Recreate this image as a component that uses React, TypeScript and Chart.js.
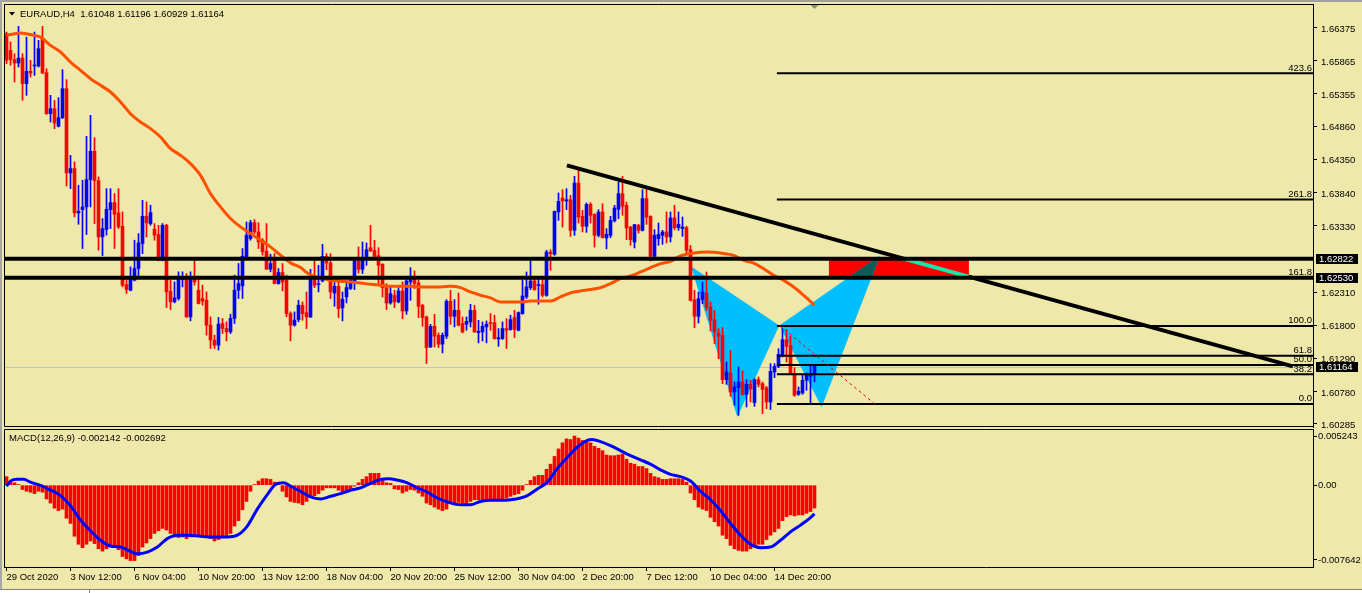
import React, { useEffect, useRef } from 'react';
import { Chart, registerables } from 'chart.js';

Chart.register(...registerables);

// ---------------- data ----------------
const SYMBOL = 'EURAUD,H4';

const OPEN = [
  1.66280, 1.66024, 1.65881, 1.65830, 1.65906, 1.65512, 1.65702, 1.65784, 1.65784, 1.66203,
  1.65681, 1.65051, 1.65128, 1.64857, 1.64990, 1.65435, 1.64140, 1.64207, 1.63526, 1.63577,
  1.63618, 1.64038, 1.64473, 1.64022, 1.63157, 1.63270, 1.63577, 1.63685, 1.63526, 1.63321,
  1.62425, 1.62338, 1.62492, 1.62671, 1.63055, 1.63475, 1.63362, 1.63275, 1.63193, 1.62799,
  1.63336, 1.62322, 1.62159, 1.62210, 1.62502, 1.62543, 1.61928, 1.62543, 1.62338, 1.62210,
  1.62184, 1.61800, 1.61570, 1.61493, 1.61826, 1.61749, 1.61698, 1.61903, 1.62338, 1.62404,
  1.62850, 1.63132, 1.63377, 1.63234, 1.63106, 1.62937, 1.62661, 1.62840, 1.62440, 1.62610,
  1.62492, 1.61979, 1.61800, 1.61887, 1.62106, 1.61993, 1.61927, 1.62552, 1.62424, 1.62480,
  1.62859, 1.62756, 1.62295, 1.62398, 1.62065, 1.62234, 1.62362, 1.62480, 1.62787, 1.62659,
  1.62838, 1.62992, 1.62951, 1.62869, 1.62736, 1.62378, 1.62142, 1.62260, 1.62158, 1.62326,
  1.62019, 1.62465, 1.62500, 1.62449, 1.62106, 1.61927, 1.61466, 1.61783, 1.61645, 1.61507,
  1.61630, 1.62168, 1.61937, 1.62029, 1.61825, 1.61814, 1.61850, 1.62029, 1.61686, 1.61697,
  1.61773, 1.61840, 1.61840, 1.61589, 1.61594, 1.61748, 1.61733, 1.61917, 1.61722, 1.61978,
  1.62234, 1.62378, 1.62480, 1.62408, 1.62424, 1.62260, 1.62925, 1.62890, 1.63540, 1.63755,
  1.63709, 1.63729, 1.63258, 1.63985, 1.63473, 1.63320, 1.63658, 1.63504, 1.63181, 1.63540,
  1.63141, 1.63181, 1.63402, 1.63581, 1.63821, 1.63642, 1.63309, 1.63079, 1.63335, 1.63258,
  1.63745, 1.63473, 1.62859, 1.63130, 1.63181, 1.63233, 1.63156, 1.63448, 1.63299, 1.63284,
  1.63299, 1.62960, 1.62192, 1.61936, 1.62197, 1.62294, 1.62079, 1.61884, 1.61680, 1.61644,
  1.60963, 1.61065, 1.60773, 1.60840, 1.60927, 1.60738, 1.60891, 1.60610, 1.60963, 1.60901,
  1.60835, 1.60620, 1.61081, 1.61168, 1.61337, 1.61577, 1.61490, 1.61055, 1.60738, 1.60758,
  1.60952, 1.61014, 1.61048,
];

const HIGH = [
  1.66306, 1.66152, 1.65973, 1.66393, 1.65973, 1.66229, 1.65871, 1.66306, 1.66178, 1.66393,
  1.65743, 1.65333, 1.65256, 1.65297, 1.65727, 1.65574, 1.64411, 1.64309, 1.63951, 1.64028,
  1.64703, 1.65026, 1.64683, 1.64079, 1.63439, 1.63899, 1.63899, 1.63823, 1.63899, 1.63541,
  1.62517, 1.62697, 1.63106, 1.63208, 1.63720, 1.63695, 1.63644, 1.63362, 1.63336, 1.63362,
  1.63351, 1.62492, 1.62466, 1.62620, 1.62620, 1.62594, 1.62620, 1.62809, 1.62543, 1.62415,
  1.62312, 1.61928, 1.61647, 1.61918, 1.61903, 1.61852, 1.61969, 1.62569, 1.62748, 1.62978,
  1.63387, 1.63413, 1.63423, 1.63377, 1.63132, 1.63362, 1.62891, 1.62901, 1.62671, 1.62748,
  1.62569, 1.62005, 1.62005, 1.62184, 1.62158, 1.62311, 1.62659, 1.62797, 1.62721, 1.63043,
  1.62900, 1.62900, 1.62465, 1.62552, 1.62311, 1.62449, 1.62552, 1.62838, 1.63002, 1.63079,
  1.63064, 1.63335, 1.63105, 1.62992, 1.62746, 1.62439, 1.62398, 1.62337, 1.62398, 1.62465,
  1.62541, 1.62685, 1.62634, 1.62490, 1.62122, 1.61941, 1.61814, 1.61968, 1.61681, 1.61681,
  1.62193, 1.62337, 1.62193, 1.62295, 1.61927, 1.61927, 1.62122, 1.62106, 1.61875, 1.61850,
  1.61865, 1.61978, 1.61953, 1.61748, 1.61850, 1.61901, 1.61953, 1.62029, 1.62004, 1.62490,
  1.62618, 1.62787, 1.62552, 1.62516, 1.62552, 1.62951, 1.62961, 1.63555, 1.63832, 1.63883,
  1.63898, 1.63796, 1.64088, 1.64180, 1.63565, 1.63678, 1.63683, 1.63514, 1.63576, 1.63668,
  1.63284, 1.63473, 1.63642, 1.64001, 1.64088, 1.63693, 1.63320, 1.63350, 1.63350, 1.63883,
  1.63934, 1.63483, 1.63268, 1.63371, 1.63258, 1.63540, 1.63540, 1.63642, 1.63540, 1.63463,
  1.63320, 1.63026, 1.62335, 1.62309, 1.62463, 1.62617, 1.62156, 1.62028, 1.61746, 1.61762,
  1.61234, 1.61413, 1.60927, 1.61157, 1.61096, 1.60963, 1.60952, 1.60978, 1.61004, 1.60927,
  1.60860, 1.61209, 1.61209, 1.61439, 1.61746, 1.61731, 1.61628, 1.61147, 1.60850, 1.61029,
  1.61065, 1.61198, 1.61196,
];

const LOW = [
  1.65819, 1.65794, 1.65538, 1.65768, 1.65256, 1.65333, 1.65615, 1.65640, 1.65768, 1.65666,
  1.65040, 1.64923, 1.64821, 1.64847, 1.64975, 1.63940, 1.63899, 1.63464, 1.63351, 1.62978,
  1.63193, 1.63618, 1.63362, 1.62953, 1.62870, 1.63183, 1.63285, 1.62978, 1.63285, 1.62389,
  1.62287, 1.62327, 1.62480, 1.62517, 1.62901, 1.63157, 1.63336, 1.63106, 1.62790, 1.62789,
  1.62071, 1.62041, 1.62143, 1.62184, 1.62389, 1.61918, 1.61867, 1.62415, 1.62125, 1.62107,
  1.61647, 1.61442, 1.61442, 1.61417, 1.61672, 1.61560, 1.61672, 1.61826, 1.62210, 1.62210,
  1.62840, 1.63106, 1.63208, 1.62978, 1.62876, 1.62656, 1.62620, 1.62435, 1.62430, 1.62327,
  1.61928, 1.61560, 1.61785, 1.61852, 1.61875, 1.61748, 1.61917, 1.62378, 1.62311, 1.62465,
  1.62654, 1.62209, 1.62091, 1.61917, 1.61865, 1.62142, 1.62347, 1.62347, 1.62603, 1.62593,
  1.62721, 1.62936, 1.62838, 1.62439, 1.62234, 1.62040, 1.62122, 1.62070, 1.62142, 1.61901,
  1.61968, 1.62183, 1.62362, 1.61917, 1.61783, 1.61211, 1.61456, 1.61466, 1.61456, 1.61374,
  1.61594, 1.61814, 1.61773, 1.61790, 1.61681, 1.61722, 1.61773, 1.61690, 1.61528, 1.61558,
  1.61528, 1.61722, 1.61585, 1.61476, 1.61579, 1.61441, 1.61722, 1.61610, 1.61712, 1.61968,
  1.62209, 1.62347, 1.62337, 1.62122, 1.62234, 1.62245, 1.62644, 1.62874, 1.63412, 1.63309,
  1.63576, 1.63166, 1.63181, 1.63371, 1.63233, 1.63227, 1.63371, 1.63002, 1.63156, 1.63140,
  1.62972, 1.63146, 1.63386, 1.63437, 1.63489, 1.63115, 1.63028, 1.62987, 1.63217, 1.63248,
  1.63350, 1.62787, 1.62849, 1.63028, 1.63043, 1.63064, 1.63079, 1.63268, 1.63258, 1.63166,
  1.62900, 1.62171, 1.61762, 1.61833, 1.62130, 1.62028, 1.61710, 1.61516, 1.61285, 1.60901,
  1.60891, 1.60707, 1.60569, 1.60415, 1.60722, 1.60543, 1.60620, 1.60553, 1.60850, 1.60441,
  1.60517, 1.60502, 1.60994, 1.61147, 1.61311, 1.61234, 1.61045, 1.60707, 1.60722, 1.60738,
  1.60799, 1.60594, 1.60929,
];

const CLOSE = [
  1.65871, 1.65881, 1.65830, 1.65906, 1.65512, 1.65702, 1.65676, 1.65794, 1.66050, 1.65676,
  1.65051, 1.65128, 1.64908, 1.64990, 1.65435, 1.64140, 1.64207, 1.63526, 1.63551, 1.63618,
  1.64038, 1.64473, 1.64022, 1.63157, 1.63285, 1.63582, 1.63685, 1.63505, 1.63311, 1.62415,
  1.62348, 1.62543, 1.62671, 1.63065, 1.63475, 1.63372, 1.63531, 1.63183, 1.62799, 1.63336,
  1.62312, 1.62159, 1.62220, 1.62543, 1.62543, 1.61928, 1.62543, 1.62466, 1.62133, 1.62169,
  1.61800, 1.61570, 1.61493, 1.61816, 1.61749, 1.61698, 1.61903, 1.62338, 1.62440, 1.62860,
  1.63183, 1.63377, 1.63234, 1.63081, 1.62927, 1.62661, 1.62748, 1.62440, 1.62610, 1.62466,
  1.61979, 1.61800, 1.61877, 1.62107, 1.61978, 1.61927, 1.62552, 1.62413, 1.62439, 1.62859,
  1.62756, 1.62311, 1.62398, 1.62055, 1.62198, 1.62378, 1.62490, 1.62787, 1.62659, 1.62838,
  1.62961, 1.62941, 1.62859, 1.62721, 1.62378, 1.62142, 1.62285, 1.62158, 1.62326, 1.62019,
  1.62480, 1.62500, 1.62439, 1.62091, 1.61917, 1.61456, 1.61783, 1.61630, 1.61507, 1.61645,
  1.62168, 1.61937, 1.62029, 1.61799, 1.61697, 1.61860, 1.62029, 1.61697, 1.61707, 1.61783,
  1.61814, 1.61825, 1.61594, 1.61610, 1.61748, 1.61722, 1.61886, 1.61733, 1.61993, 1.62250,
  1.62388, 1.62480, 1.62347, 1.62424, 1.62260, 1.62925, 1.62900, 1.63550, 1.63704, 1.63709,
  1.63729, 1.63258, 1.63985, 1.63463, 1.63320, 1.63658, 1.63489, 1.63181, 1.63540, 1.63146,
  1.63197, 1.63412, 1.63601, 1.63821, 1.63627, 1.63294, 1.63115, 1.63345, 1.63258, 1.63745,
  1.63463, 1.62859, 1.63181, 1.63197, 1.63233, 1.63156, 1.63448, 1.63299, 1.63350, 1.63309,
  1.62951, 1.62181, 1.61936, 1.62207, 1.62309, 1.62069, 1.61874, 1.61695, 1.61628, 1.60963,
  1.61081, 1.60773, 1.60850, 1.60927, 1.60738, 1.60891, 1.60819, 1.60963, 1.60891, 1.60814,
  1.60620, 1.61091, 1.61168, 1.61352, 1.61577, 1.61475, 1.61055, 1.60722, 1.60784, 1.60952,
  1.61029, 1.61055, 1.61164,
];

// Moving average (read at sampled bars)
const MA_BARS = [
  0, 2, 3.5, 5, 7, 8.5, 11, 13.5, 16, 18.5, 21, 23.5, 26, 28.5, 31, 33.5, 36, 38.5, 41, 43.5,
  46, 48.5, 51, 53.5, 56, 58.5, 61, 63.5, 66, 68.5, 71, 73.5, 75.2, 76.8, 78.5, 81, 83.5, 86,
  88.5, 91, 93.5, 96, 101, 103.5, 108.5, 111, 113.5, 116, 118.5, 121, 123.5, 128.5, 131, 136,
  138.5, 141, 143.5, 146, 148.5, 151, 153.5, 156, 158.5, 161, 163.5, 166, 168.5, 171.8, 175.2,
  178.5, 181.8, 184.3, 186.8, 189.3, 191.8, 194.3, 196.8, 199.3, 202,
];
const MA_VALUES = [
  1.66255, 1.66280, 1.66290, 1.66280, 1.66255, 1.66229, 1.66101, 1.65999, 1.65845, 1.65717,
  1.65589, 1.65487, 1.65384, 1.65231, 1.65051, 1.64923, 1.64821, 1.64693, 1.64514, 1.64411,
  1.64283, 1.64104, 1.63823, 1.63618, 1.63439, 1.63311, 1.63208, 1.63106, 1.63004, 1.62876,
  1.62758, 1.62686, 1.62603, 1.62552, 1.62531, 1.62490, 1.62475, 1.62465, 1.62449, 1.62429,
  1.62413, 1.62398, 1.62398, 1.62388, 1.62388, 1.62398, 1.62378, 1.62311, 1.62260, 1.62219,
  1.62157, 1.62157, 1.62173, 1.62173, 1.62234, 1.62296, 1.62326, 1.62347, 1.62378, 1.62439,
  1.62516, 1.62557, 1.62618, 1.62685, 1.62746, 1.62782, 1.62865, 1.62908, 1.62924, 1.62908,
  1.62873, 1.62796, 1.62755, 1.62668, 1.62565, 1.62489, 1.62386, 1.62258, 1.62110,
];

// MACD main (histogram), one per bar
const MACD_MAIN = [
  0.00079, 0.00028, 0.00022, 0.00006, -0.00041, -0.00057, -0.00066, -0.00079, -0.00057, -0.00066,
  -0.00129, -0.00167, -0.00215, -0.00237, -0.00224, -0.00309, -0.00357, -0.00477, -0.00552, -0.00584,
  -0.00552, -0.00521, -0.00546, -0.00594, -0.00616, -0.00594, -0.00578, -0.00578, -0.00603, -0.00666,
  -0.00688, -0.00704, -0.00704, -0.00657, -0.00578, -0.00540, -0.00499, -0.00451, -0.00426, -0.00404,
  -0.00420, -0.00451, -0.00483, -0.00489, -0.00483, -0.00499, -0.00483, -0.00477, -0.00477, -0.00483,
  -0.00489, -0.00499, -0.00521, -0.00508, -0.00489, -0.00477, -0.00451, -0.00382, -0.00331, -0.00230,
  -0.00152, -0.00057, 0.00006, 0.00038, 0.00060, 0.00060, 0.00054, 0.00028, 0.00016, -0.00057,
  -0.00110, -0.00152, -0.00161, -0.00167, -0.00183, -0.00152, -0.00110, -0.00098, -0.00079, -0.00047,
  -0.00025, -0.00025, -0.00025, -0.00047, -0.00066, -0.00047, -0.00035, -0.00009, 0.00022, 0.00054,
  0.00079, 0.00110, 0.00110, 0.00110, 0.00054, 0.00022, 0.00016, -0.00035, -0.00041, -0.00073,
  -0.00057, -0.00041, -0.00047, -0.00073, -0.00104, -0.00167, -0.00183, -0.00205, -0.00224, -0.00237,
  -0.00224, -0.00161, -0.00167, -0.00161, -0.00167, -0.00174, -0.00152, -0.00136, -0.00136, -0.00136,
  -0.00136, -0.00129, -0.00129, -0.00129, -0.00129, -0.00120, -0.00104, -0.00088, -0.00079, -0.00047,
  0.00006, 0.00044, 0.00079, 0.00092, 0.00092, 0.00148, 0.00196, 0.00268, 0.00338, 0.00395,
  0.00432, 0.00426, 0.00458, 0.00439, 0.00417, 0.00417, 0.00395, 0.00363, 0.00344, 0.00322,
  0.00281, 0.00275, 0.00275, 0.00281, 0.00290, 0.00243, 0.00205, 0.00196, 0.00174, 0.00174,
  0.00155, 0.00110, 0.00079, 0.00069, 0.00054, 0.00054, 0.00060, 0.00060, 0.00060, 0.00054,
  0.00028, -0.00073, -0.00136, -0.00205, -0.00224, -0.00237, -0.00300, -0.00341, -0.00382, -0.00467,
  -0.00499, -0.00562, -0.00594, -0.00609, -0.00616, -0.00616, -0.00594, -0.00578, -0.00552, -0.00552,
  -0.00508, -0.00467, -0.00436, -0.00404, -0.00331, -0.00294, -0.00278, -0.00287, -0.00278, -0.00278,
  -0.00262, -0.00246, -0.002142,
];

// MACD signal line (read at sampled bars)
const SIGNAL_BARS = [
  0, 1, 2.7, 4.3, 6, 8.5, 11, 13.5, 16, 18.5, 21, 23.5, 26, 28.5, 31, 32.7, 35.2, 37.7, 40.2, 42.7,
  45.2, 48.5, 51.8, 55.2, 57.7, 60.2, 62.7, 65.2, 67.25, 69.3, 71, 73.5, 76, 78.5, 81, 83.5, 86,
  88.5, 91, 93.5, 95.6, 97.7, 100.2, 102.7, 105.2, 107.7, 110.5, 113.5, 116, 118.5, 121, 123.5,
  126, 128.5, 130.2, 132.7, 135.2, 137.7, 140.2, 142.7, 145.2, 146.4, 148.5, 151, 153.5, 156,
  158.5, 161, 163.5, 166, 168.5, 171, 173.5, 176, 178.5, 181, 183.5, 186, 188.5, 191, 193.5, 196,
  198.5, 201, 202,
];
const SIGNAL_VALUES = [
  -0.00009, 0.00038, 0.00054, 0.00054, 0.00028, -0.00003, -0.00047, -0.00098, -0.00193, -0.00325,
  -0.00426, -0.00515, -0.00568, -0.00578, -0.00619, -0.00641, -0.00625, -0.00578, -0.00499, -0.00467,
  -0.00467, -0.00477, -0.00483, -0.00483, -0.00467, -0.00382, -0.00224, -0.00088, 0.00006, 0.00022,
  -0.00009, -0.00057, -0.00110, -0.00129, -0.00104, -0.00079, -0.00047, -0.00025, 0.00016, 0.00054,
  0.00060, 0.00047, 0.00022, -0.00025, -0.00066, -0.00120, -0.00160, -0.00183, -0.00183, -0.00152,
  -0.00142, -0.00142, -0.00136, -0.00120, -0.00098, -0.00035, 0.00028, 0.00155, 0.00259, 0.00354,
  0.00417, 0.00426, 0.00407, 0.00369, 0.00322, 0.00275, 0.00237, 0.00196, 0.00142, 0.00101,
  0.00079, 0.00038, -0.00057, -0.00136, -0.00237, -0.00357, -0.00467, -0.00552, -0.00584, -0.00578,
  -0.00515, -0.00436, -0.00373, -0.00303, -0.002692,
];

// axes
const PRICE_TICKS = [1.60285, 1.60780, 1.61290, 1.61800, 1.62310, 1.63330, 1.63840, 1.64350, 1.64860, 1.65355, 1.65865, 1.66375];
const PRICE_MIN = 1.60235;
const PRICE_MAX = 1.66737;
const BAR_MIN = -0.625;
const BAR_MAX = 326.625;
const MACD_MIN = -0.007642;
const MACD_MAX = 0.005243;
const MACD_TICKS = [-0.006988, 0, 0.004543];
const MACD_TICK_LABELS = ['-0.007642', '0.00', '0.005243'];
const X_TICK_BARS = [0, 16, 32, 48, 64, 80, 96, 112, 128, 144, 160, 176, 192];
const X_TICK_LABELS = [
  '29 Oct 2020', '3 Nov 12:00', '6 Nov 04:00', '10 Nov 20:00', '13 Nov 12:00', '18 Nov 04:00',
  '20 Nov 20:00', '25 Nov 12:00', '30 Nov 04:00', '2 Dec 20:00', '7 Dec 12:00', '10 Dec 04:00', '14 Dec 20:00',
];

// chart objects
const LEVEL_LINES = [1.62822, 1.62530];
const BID = 1.61164;
const ZONE_BARS = [205.6, 240.6];
const ZONE_PRICES = [1.62822, 1.62530];
const TREND_BARS = [140.1, 321.6];
const TREND_PRICES = [1.64256, 1.61167];
const PATTERN_BARS = [171.1, 182.7, 193.2, 203.8, 218.4];
const PATTERN_PRICES = [1.62704, 1.60387, 1.61797, 1.60541, 1.62873];
const FIB_START_BAR = 192.6;
const FIB_LOW = 1.60589;
const FIB_HIGH = 1.61789;
const FIB_LEVELS = [0, 38.2, 50, 61.8, 100, 161.8, 261.8, 423.6];
const FIB_LABELS = ['0.0', '38.2', '50.0', '61.8', '100.0', '161.8', '261.8', '423.6'];
const FIB_DASH_BARS = [193.4, 217.1];
const MACD_NAME = 'MACD(12,26,9)';

// ---------------- styling ----------------
const W = 1362;
const BG = '#EEE8AA';
const FONT_FAMILY = 'Liberation Sans';
const FONT_SIZE = 9.5;
const CSS_FONT = `${FONT_SIZE}px "${FONT_FAMILY}"`;
const UP = '#0000FF';
const DOWN = '#FF0000';

const BARS = OPEN.map((_, i) => i);
const CANDLE_COLORS = BARS.map((i) => (CLOSE[i] >= OPEN[i] ? UP : DOWN));

const mainOverlay: any = {
  id: 'mainOverlay',
  beforeDatasetsDraw(chart: any) {
    const { ctx, chartArea: a } = chart;
    const X = (v: number) => chart.scales.x.getPixelForValue(v);
    const Y = (v: number) => chart.scales.y.getPixelForValue(v);
    ctx.save();
    ctx.beginPath();
    ctx.rect(a.left, a.top, a.right - a.left, a.bottom - a.top);
    ctx.clip();
    // bid line
    const yb = Math.round(Y(BID)) + 0.5;
    ctx.strokeStyle = '#C0C0C0';
    ctx.lineWidth = 1;
    ctx.beginPath();
    ctx.moveTo(a.left, yb);
    ctx.lineTo(a.right, yb);
    ctx.stroke();
    // zone rectangle
    const zx0 = X(ZONE_BARS[0]);
    const zx1 = X(ZONE_BARS[1]);
    const zy0 = Y(ZONE_PRICES[0]);
    const zy1 = Y(ZONE_PRICES[1]);
    ctx.fillStyle = '#FF0000';
    ctx.fillRect(zx0, zy0, zx1 - zx0, zy1 - zy0);
    // harmonic triangles
    const pts = PATTERN_BARS.map((b, i) => [X(b), Y(PATTERN_PRICES[i])]);
    const tri = (p: number[], q: number[], r: number[]) => {
      ctx.beginPath();
      ctx.moveTo(p[0], p[1]);
      ctx.lineTo(q[0], q[1]);
      ctx.lineTo(r[0], r[1]);
      ctx.closePath();
    };
    ctx.fillStyle = '#00BFFF';
    tri(pts[0], pts[1], pts[2]);
    ctx.fill();
    tri(pts[2], pts[3], pts[4]);
    ctx.fill();
    ctx.save();
    ctx.beginPath();
    ctx.rect(zx0, zy0, zx1 - zx0, zy1 - zy0);
    ctx.clip();
    ctx.fillStyle = '#0F5C57';
    tri(pts[2], pts[3], pts[4]);
    ctx.fill();
    ctx.restore();
    ctx.restore();
  },
  afterDatasetsDraw(chart: any) {
    const { ctx, chartArea: a } = chart;
    const X = (v: number) => chart.scales.x.getPixelForValue(v);
    const Y = (v: number) => chart.scales.y.getPixelForValue(v);
    ctx.save();
    ctx.beginPath();
    ctx.rect(a.left, a.top, a.right - a.left, a.bottom - a.top);
    ctx.clip();

    // fibonacci lines
    const fx = X(FIB_START_BAR);
    ctx.strokeStyle = '#000';
    ctx.lineWidth = 2;
    FIB_LEVELS.forEach((lv) => {
      const yy = Y(FIB_LOW + ((FIB_HIGH - FIB_LOW) * lv) / 100);
      ctx.beginPath();
      ctx.moveTo(fx, yy);
      ctx.lineTo(a.right, yy);
      ctx.stroke();
    });
    // fib trend (dashed)
    ctx.strokeStyle = '#FF0000';
    ctx.lineWidth = 1;
    ctx.setLineDash([3, 3]);
    ctx.beginPath();
    ctx.moveTo(X(FIB_DASH_BARS[0]), Y(FIB_HIGH));
    ctx.lineTo(X(FIB_DASH_BARS[1]), Y(FIB_LOW));
    ctx.stroke();
    ctx.setLineDash([]);

    // trend line: black outside the zone, mint inside
    const zx0 = X(ZONE_BARS[0]);
    const zx1 = X(ZONE_BARS[1]);
    const zy0 = Y(ZONE_PRICES[0]);
    const zy1 = Y(ZONE_PRICES[1]);
    const drawTrend = () => {
      ctx.beginPath();
      ctx.moveTo(X(TREND_BARS[0]), Y(TREND_PRICES[0]));
      ctx.lineTo(X(TREND_BARS[1]), Y(TREND_PRICES[1]));
      ctx.stroke();
    };
    ctx.lineWidth = 4;
    ctx.save();
    ctx.beginPath();
    ctx.rect(a.left, a.top, a.right - a.left, a.bottom - a.top);
    ctx.rect(zx0, zy0, zx1 - zx0, zy1 - zy0);
    ctx.clip('evenodd');
    ctx.strokeStyle = '#000';
    drawTrend();
    ctx.restore();
    ctx.save();
    ctx.beginPath();
    ctx.rect(zx0, zy0, zx1 - zx0, zy1 - zy0);
    ctx.clip();
    ctx.strokeStyle = '#1EE3A8';
    drawTrend();
    ctx.restore();

    // horizontal levels
    ctx.strokeStyle = '#000';
    ctx.lineWidth = 4;
    LEVEL_LINES.forEach((p) => {
      const yy = Y(p);
      ctx.beginPath();
      ctx.moveTo(a.left, yy);
      ctx.lineTo(a.right, yy);
      ctx.stroke();
    });

    // fib labels
    ctx.font = CSS_FONT;
    ctx.fillStyle = '#000';
    ctx.textAlign = 'right';
    ctx.textBaseline = 'alphabetic';
    FIB_LEVELS.forEach((lv, i) => {
      const yy = Y(FIB_LOW + ((FIB_HIGH - FIB_LOW) * lv) / 100);
      ctx.fillText(FIB_LABELS[i], a.right - 1, yy - 2.5);
    });
    ctx.restore();
  },
  afterDraw(chart: any) {
    const { ctx, chartArea: a } = chart;
    const X = (v: number) => chart.scales.x.getPixelForValue(v);
    const Y = (v: number) => chart.scales.y.getPixelForValue(v);
    ctx.save();
    // frame
    ctx.strokeStyle = '#000';
    ctx.lineWidth = 1;
    ctx.beginPath();
    ctx.moveTo(a.right, a.top + 0.5);
    ctx.lineTo(a.left + 0.5, a.top + 0.5);
    ctx.lineTo(a.left + 0.5, a.bottom - 0.5);
    ctx.lineTo(a.right, a.bottom - 0.5);
    ctx.stroke();
    // shift marker
    const mx = X(BARS[BARS.length - 1]);
    ctx.fillStyle = '#8C8C8C';
    ctx.beginPath();
    ctx.moveTo(mx - 4, a.top + 1);
    ctx.lineTo(mx + 4, a.top + 1);
    ctx.lineTo(mx, a.top + 5);
    ctx.closePath();
    ctx.fill();
    // header
    const last = BARS.length - 1;
    ctx.fillStyle = '#000';
    ctx.beginPath();
    ctx.moveTo(9, 12);
    ctx.lineTo(15, 12);
    ctx.lineTo(12, 15.5);
    ctx.closePath();
    ctx.fill();
    ctx.font = CSS_FONT;
    ctx.textAlign = 'left';
    ctx.textBaseline = 'middle';
    ctx.fillText(
      `${SYMBOL}  ${OPEN[last].toFixed(5)} ${HIGH[last].toFixed(5)} ${LOW[last].toFixed(5)} ${CLOSE[last].toFixed(5)}`,
      20,
      14,
    );
    // price boxes
    [...LEVEL_LINES, BID].forEach((p) => {
      const yy = Y(p);
      ctx.fillStyle = '#000';
      ctx.fillRect(a.right + 3, Math.round(yy) - 5, 42, 10);
      ctx.fillStyle = '#FFF';
      ctx.fillText(p.toFixed(5), a.right + 6, yy + 0.5);
    });
    ctx.restore();
  },
};

const macdOverlay: any = {
  id: 'macdOverlay',
  afterDraw(chart: any) {
    const { ctx, chartArea: a } = chart;
    ctx.save();
    ctx.strokeStyle = '#000';
    ctx.lineWidth = 1;
    ctx.beginPath();
    ctx.moveTo(a.right, a.top + 0.5);
    ctx.lineTo(a.left + 0.5, a.top + 0.5);
    ctx.lineTo(a.left + 0.5, a.bottom);
    ctx.stroke();
    ctx.font = CSS_FONT;
    ctx.fillStyle = '#000';
    ctx.textAlign = 'left';
    ctx.textBaseline = 'middle';
    const n = MACD_MAIN.length - 1;
    ctx.fillText(
      `${MACD_NAME} ${MACD_MAIN[n].toFixed(6)} ${SIGNAL_VALUES[SIGNAL_VALUES.length - 1].toFixed(6)}`,
      9,
      a.top + 9.5,
    );
    ctx.restore();
  },
};

export default function App() {
  const mainRef = useRef<HTMLCanvasElement>(null);
  const macdRef = useRef<HTMLCanvasElement>(null);

  useEffect(() => {
    Chart.defaults.font.family = FONT_FAMILY;
    Chart.defaults.font.size = FONT_SIZE;
    Chart.defaults.color = '#000';

    const main = new Chart(mainRef.current as HTMLCanvasElement, {
      type: 'bar',
      data: {
        datasets: [
          {
            type: 'line',
            label: 'MA',
            data: MA_BARS.map((b, i) => ({ x: b, y: MA_VALUES[i] })),
            borderColor: 'rgb(255,80,0)',
            borderWidth: 3,
            pointRadius: 0,
            cubicInterpolationMode: 'monotone',
            order: 0,
          } as any,
          {
            type: 'bar',
            label: 'body',
            data: BARS.map((i) => ({ x: i, y: [OPEN[i], CLOSE[i]] })),
            backgroundColor: CANDLE_COLORS,
            borderWidth: 0,
            barThickness: 3,
            minBarLength: 1,
            grouped: false,
            order: 1,
          } as any,
          {
            type: 'bar',
            label: 'wick',
            data: BARS.map((i) => ({ x: i, y: [LOW[i], HIGH[i]] })),
            backgroundColor: CANDLE_COLORS,
            borderWidth: 0,
            barThickness: 1,
            grouped: false,
            order: 2,
          } as any,
        ],
      },
      options: {
        responsive: false,
        animation: false,
        devicePixelRatio: 1,
        events: [],
        layout: { padding: { left: 4, top: 4, right: 0, bottom: 2 } },
        plugins: { legend: { display: false }, tooltip: { enabled: false } },
        scales: {
          x: {
            type: 'linear',
            display: false,
            min: BAR_MIN,
            max: BAR_MAX,
            offset: false,
          },
          y: {
            type: 'linear',
            position: 'right',
            min: PRICE_MIN,
            max: PRICE_MAX,
            afterBuildTicks: (s: any) => {
              s.ticks = PRICE_TICKS.map((v) => ({ value: v }));
            },
            afterFit: (s: any) => {
              s.width = 49;
              s.paddingTop = 0;
              s.paddingBottom = 0;
            },
            ticks: {
              autoSkip: false,
              padding: 4,
              labelOffset: 1.5,
              color: '#000',
              font: { size: FONT_SIZE, family: FONT_FAMILY },
              callback: (v: any) => Number(v).toFixed(5),
            },
            grid: { drawOnChartArea: false, tickLength: 4, color: '#000' },
            border: { color: '#000' },
          },
        },
      } as any,
      plugins: [mainOverlay],
    });

    const macd = new Chart(macdRef.current as HTMLCanvasElement, {
      type: 'bar',
      data: {
        datasets: [
          {
            type: 'line',
            label: 'Signal',
            data: SIGNAL_BARS.map((b, i) => ({ x: b, y: SIGNAL_VALUES[i] })),
            borderColor: '#0000FF',
            borderWidth: 3,
            pointRadius: 0,
            cubicInterpolationMode: 'monotone',
            order: 0,
          } as any,
          {
            type: 'bar',
            label: 'MACD',
            data: BARS.map((i) => ({ x: i, y: MACD_MAIN[i] })),
            backgroundColor: '#FF0000',
            borderWidth: 0,
            barThickness: 3,
            grouped: false,
            order: 1,
          } as any,
        ],
      },
      options: {
        responsive: false,
        animation: false,
        devicePixelRatio: 1,
        events: [],
        layout: { padding: { left: 4, top: 0, right: 0, bottom: 0 } },
        plugins: { legend: { display: false }, tooltip: { enabled: false } },
        scales: {
          x: {
            type: 'linear',
            position: 'bottom',
            min: BAR_MIN,
            max: BAR_MAX,
            offset: false,
            afterBuildTicks: (s: any) => {
              s.ticks = X_TICK_BARS.map((v) => ({ value: v }));
            },
            afterFit: (s: any) => {
              s.height = 23;
              s.paddingLeft = 0;
              s.paddingRight = 0;
            },
            ticks: {
              autoSkip: false,
              maxRotation: 0,
              minRotation: 0,
              align: 'start',
              padding: 1,
              color: '#000',
              font: { size: FONT_SIZE, family: FONT_FAMILY },
              callback: (_v: any, idx: number) => X_TICK_LABELS[idx],
            },
            grid: { drawOnChartArea: false, tickLength: 4, color: '#000', offset: false },
            border: { color: '#000' },
          },
          y: {
            type: 'linear',
            position: 'right',
            min: MACD_MIN,
            max: MACD_MAX,
            afterBuildTicks: (s: any) => {
              s.ticks = MACD_TICKS.map((v) => ({ value: v }));
            },
            afterFit: (s: any) => {
              s.width = 49;
              s.paddingTop = 0;
              s.paddingBottom = 0;
            },
            ticks: {
              autoSkip: false,
              padding: 1,
              color: '#000',
              font: { size: FONT_SIZE, family: FONT_FAMILY },
              callback: (_v: any, idx: number) => MACD_TICK_LABELS[idx],
            },
            grid: { drawOnChartArea: false, tickLength: 4, color: '#000' },
            border: { color: '#000' },
          },
        },
      } as any,
      plugins: [macdOverlay],
    });

    return () => {
      main.destroy();
      macd.destroy();
    };
  }, []);

  return (
    <div
      style={{
        position: 'fixed',
        left: 0,
        top: 0,
        width: W,
        height: 593,
        background: BG,
        overflow: 'hidden',
      }}
    >
      <div style={{ position: 'absolute', left: 0, top: 0, width: W, height: 2, background: '#A0A0A0' }} />
      <div style={{ position: 'absolute', left: 0, top: 0, width: 2, height: 589, background: '#A8A8A8' }} />
      <canvas
        ref={mainRef}
        width={W}
        height={429}
        style={{ position: 'absolute', left: 0, top: 0, width: W, height: 429 }}
      />
      <canvas
        ref={macdRef}
        width={W}
        height={161}
        style={{ position: 'absolute', left: 0, top: 429, width: W, height: 161 }}
      />
      <div
        style={{
          position: 'absolute',
          left: 0,
          top: 589,
          width: W,
          height: 4,
          background: '#FFFFFF',
          borderTop: '1px solid #808080',
        }}
      />
      <div style={{ position: 'absolute', left: 89, top: 590, width: 1, height: 3, background: '#808080' }} />
    </div>
  );
}
